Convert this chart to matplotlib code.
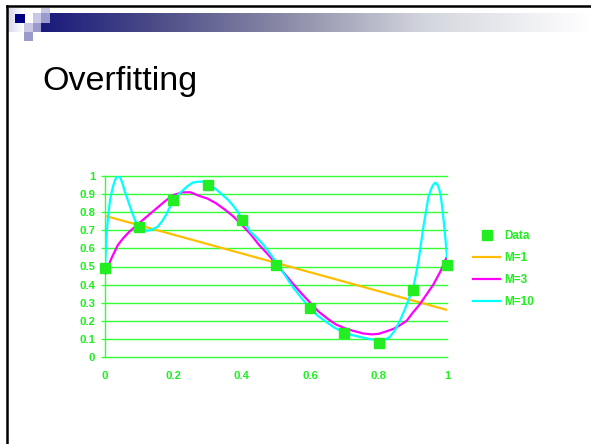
import numpy as np
import matplotlib.pyplot as plt
from matplotlib.colors import LinearSegmentedColormap
from matplotlib.patches import Rectangle
from matplotlib.lines import Line2D

plt.rcParams["font.family"] = ["Liberation Sans", "DejaVu Sans"]

# observed points
data_x = [0.0, 0.1, 0.2, 0.3, 0.4, 0.5, 0.6, 0.7, 0.8, 0.9, 1.0]
data_y = [0.49, 0.72, 0.865, 0.95, 0.755, 0.51, 0.27, 0.13, 0.08, 0.37, 0.51]

# fitted polynomials of order M
m1_x = [0.0, 1.0]
m1_y = [0.78, 0.26]

m3_x = [0.0, 0.02, 0.038, 0.055, 0.07, 0.085, 0.1, 0.125, 0.15, 0.175, 0.2,
        0.227, 0.25, 0.276, 0.3, 0.324, 0.35, 0.373, 0.4, 0.425, 0.45, 0.475,
        0.5, 0.525, 0.549, 0.575, 0.6, 0.625, 0.652, 0.675, 0.7, 0.725,
        0.755, 0.78, 0.8, 0.82, 0.843, 0.862, 0.882, 0.9, 0.92, 0.94, 0.96,
        0.98, 1.0]
m3_y = [0.46, 0.55, 0.62, 0.66, 0.69, 0.715, 0.74, 0.78, 0.82, 0.86, 0.895,
        0.91, 0.91, 0.89, 0.875, 0.85, 0.815, 0.78, 0.73, 0.68, 0.62, 0.57,
        0.515, 0.46, 0.406, 0.35, 0.30, 0.25, 0.21, 0.18, 0.16, 0.145,
        0.13, 0.125, 0.128, 0.14, 0.155, 0.175, 0.20, 0.245, 0.29, 0.345, 0.40,
        0.47, 0.555]

m10_x = [0.0, 0.004, 0.009, 0.015, 0.023, 0.03, 0.035, 0.04, 0.045, 0.051,
         0.057, 0.067, 0.077, 0.087, 0.096, 0.103, 0.11, 0.12, 0.13, 0.142,
         0.154, 0.167, 0.18, 0.19, 0.2, 0.213, 0.227, 0.242, 0.256, 0.27,
         0.285, 0.3, 0.315, 0.33, 0.344, 0.36, 0.373, 0.387, 0.4, 0.413,
         0.426, 0.443, 0.46, 0.48, 0.5, 0.525, 0.549, 0.575, 0.6, 0.622,
         0.647, 0.67, 0.696, 0.72, 0.745, 0.772, 0.8, 0.818, 0.833, 0.848,
         0.863, 0.876, 0.887, 0.902, 0.917, 0.931, 0.946, 0.955, 0.961, 0.966,
         0.971, 0.977, 0.982, 0.987, 0.992, 0.996, 1.0]
m10_y = [0.48, 0.66, 0.775, 0.87, 0.94, 0.98, 0.996, 0.998, 0.99, 0.96,
         0.92, 0.865, 0.81, 0.76, 0.72, 0.705, 0.70, 0.698, 0.70, 0.708,
         0.72, 0.75, 0.79, 0.83, 0.867, 0.895, 0.92, 0.945, 0.963, 0.968,
         0.969, 0.958, 0.94, 0.918, 0.895, 0.868, 0.84, 0.805, 0.766, 0.728,
         0.69, 0.66, 0.627, 0.578, 0.526, 0.455, 0.387, 0.325, 0.268, 0.228,
         0.194, 0.163, 0.138, 0.122, 0.111, 0.10, 0.092, 0.095, 0.111, 0.148,
         0.203, 0.26, 0.314, 0.387, 0.535, 0.72, 0.886, 0.935, 0.955, 0.963,
         0.955, 0.93, 0.886, 0.81, 0.72, 0.64, 0.553]

yticks = np.round(np.arange(0, 1.01, 0.1), 1)
ytick_labels = ["0", "0.1", "0.2", "0.3", "0.4", "0.5", "0.6", "0.7", "0.8", "0.9", "1"]
xticks = [0, 0.2, 0.4, 0.6, 0.8, 1.0]
xtick_labels = ["0", "0.2", "0.4", "0.6", "0.8", "1"]

green = "#22ee22"
grid_green = "#33ff33"

W, H = 591, 444
fig = plt.figure(figsize=(W / 100, H / 100), dpi=100)
fig.patch.set_facecolor("white")

# slide decoration, drawn in pixel coordinates
deco = fig.add_axes([0, 0, 1, 1])
deco.set_xlim(0, W)
deco.set_ylim(H, 0)
deco.axis("off")

cmap = LinearSegmentedColormap.from_list(
    "band", [(0.0, "#1a1a7c"), (0.2, "#4a4a88"), (0.45, "#8c8ca8"),
             (0.7, "#d4d6de"), (1.0, "#ffffff")])
grad = np.linspace(0, 1, 256).reshape(1, -1)
deco.imshow(grad, cmap=cmap, aspect="auto", extent=[41, W, 32, 13], zorder=1)

side = LinearSegmentedColormap.from_list("side", ["#d6d6ec", "#ffffff"])
deco.imshow(grad, cmap=side, aspect="auto", extent=[8, 24, 32, 8], zorder=1)

squares = [
    (15, 14, 10, 9, "#000080"),
    (33, 13, 8, 10, "#c8c8e4"),
    (41, 8, 9, 5, "#c8c8e4"),
    (41, 13, 9, 10, "#9a9acc"),
    (24, 23, 9, 9, "#c8c8e4"),
    (33, 23, 8, 9, "#9a9acc"),
    (24, 32, 9, 9, "#9a9acc"),
]
for x0, y0, w, h, c in squares:
    deco.add_patch(Rectangle((x0, y0), w, h, color=c, lw=0, zorder=2))

deco.plot([7, W], [6, 6], color="black", lw=1.8, zorder=3)
deco.plot([7, 7], [6, H], color="black", lw=1.8, zorder=3)

fig.text(42 / W, 1 - 90 / H, "Overfitting", fontsize=24.5, color="black",
         ha="left", va="baseline")

# chart
ax = fig.add_axes([105 / W, 1 - 357 / H, 342 / W, 181 / H])
ax.set_xlim(0, 1)
ax.set_ylim(0, 1)
for y in yticks:
    ax.axhline(y, color=grid_green, lw=1.0, zorder=1, clip_on=False)

ax.plot(m1_x, m1_y, color="#ffbf00", lw=1.6, zorder=3)
ax.plot(m3_x, m3_y, color="#ff00ff", lw=1.6, zorder=3)
ax.plot(m10_x, m10_y, color="#00ffff", lw=1.6, zorder=4)
ax.plot(data_x, data_y, "s", color=green, markersize=6.8, zorder=5,
        clip_on=False, mec=green)

for s in ["top", "right", "bottom"]:
    ax.spines[s].set_visible(False)
ax.spines["left"].set_color(grid_green)
ax.spines["left"].set_linewidth(1.0)
ax.set_facecolor("none")

ax.set_yticks(yticks)
ax.set_yticklabels(ytick_labels)
ax.set_xticks(xticks)
ax.set_xticklabels(xtick_labels)
ax.tick_params(axis="y", length=3, width=1.0, color=grid_green, pad=4,
               labelsize=8.2, labelcolor=green)
ax.tick_params(axis="x", length=0, pad=10, labelsize=8.2, labelcolor=green)
for lbl in ax.get_xticklabels() + ax.get_yticklabels():
    lbl.set_fontweight("bold")

handles = [
    Line2D([], [], ls="none", marker="s", color=green, markersize=6.8),
    Line2D([], [], color="#ffbf00", lw=1.6),
    Line2D([], [], color="#ff00ff", lw=1.6),
    Line2D([], [], color="#00ffff", lw=1.6),
]
leg = fig.legend(handles, ["Data", "M=1", "M=3", "M=10"],
                 loc="upper left", bbox_to_anchor=(473 / W, 1 - 230 / H),
                 frameon=False, borderpad=0, borderaxespad=0,
                 handlelength=2.3, handletextpad=0.35, labelspacing=0.86,
                 prop={"size": 8.5, "weight": "bold"}, labelcolor=green)

fig.savefig("out.png", dpi=100)
